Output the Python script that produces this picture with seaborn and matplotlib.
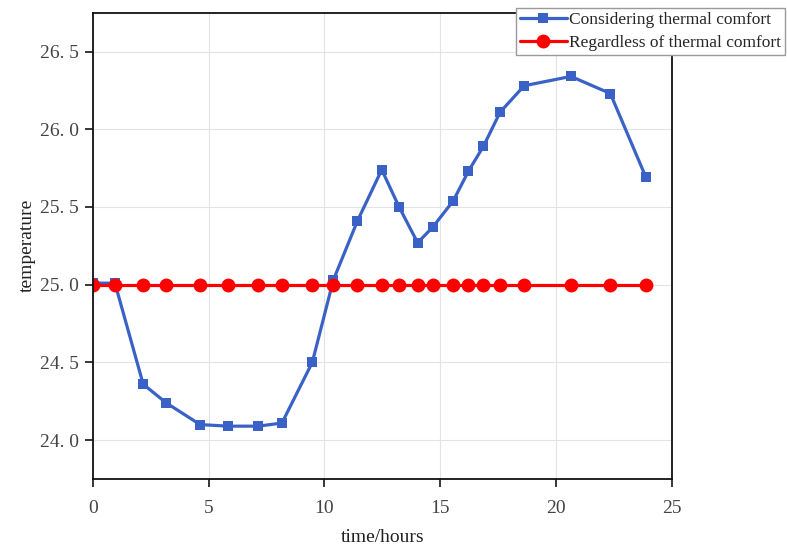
import matplotlib
matplotlib.use("Agg")
import matplotlib.pyplot as plt
import seaborn as sns
import pandas as pd

## Data
hours = [0.0, 0.96, 2.18, 3.17, 4.64, 5.86, 7.15, 8.17, 9.48, 10.39, 11.43, 12.48,
         13.23, 14.03, 14.68, 15.57, 16.22, 16.87, 17.59, 18.63, 20.65, 22.35, 23.89]
with_comfort = [25.01, 25.01, 24.36, 24.24, 24.10, 24.09, 24.09, 24.11, 24.50, 25.03, 25.41, 25.74,
                25.50, 25.27, 25.37, 25.54, 25.73, 25.89, 26.11, 26.28, 26.34, 26.23, 25.69]
without_comfort = [25.0] * len(hours)

label_with = "Considering thermal comfort"
label_without = "Regardless of thermal comfort"

blue = "#3A62C6"
red = "#FF0000"
grid_grey = "#E3E3E3"
text_dark = "#222222"

df = pd.DataFrame({"hours": hours, "with": with_comfort, "without": without_comfort})

## Setup
sns.set_style("white")
plt.rcParams["font.family"] = ["Liberation Serif", "DejaVu Serif"]
fig = plt.figure(figsize=(7.87, 5.47), dpi=100)
ax = fig.add_axes([0.1178, 0.1243, 0.7357, 0.8525])

## Plot
sns.lineplot(data=df, x="hours", y="with", ax=ax, color=blue, lw=2.3,
             marker="s", markersize=7.5, markeredgewidth=0, label=label_with)
sns.lineplot(data=df, x="hours", y="without", ax=ax, color=red, lw=2.3,
             marker="o", markersize=10, markeredgewidth=0, label=label_without)

## Format
ax.set_xlim(0, 25)
ax.set_ylim(23.75, 26.75)
ax.set_xticks([0, 5, 10, 15, 20, 25])
ax.set_yticks([24.0, 24.5, 25.0, 25.5, 26.0, 26.5])
ax.set_yticklabels([f"{v:.1f}".replace(".", ". ") for v in ax.get_yticks()])
ax.grid(True, color=grid_grey, lw=0.8)
ax.set_axisbelow(True)
for side in ["left", "bottom", "top", "right"]:
    ax.spines[side].set_color("#111111")
    ax.spines[side].set_linewidth(1.3)
ax.tick_params(axis="both", direction="out", length=6, width=1.3, labelsize=14,
               labelcolor="#444444", bottom=True, left=True)
ax.tick_params(axis="x", pad=9)
ax.tick_params(axis="y", pad=4)

ax.set_xlabel("time/hours", fontsize=14, color=text_dark, labelpad=9)
ax.set_ylabel("temperature", fontsize=14, color=text_dark, labelpad=3)

ax.legend(loc="upper right", bbox_to_anchor=(785 / 787, 1 - 8 / 547),
          bbox_transform=fig.transFigure, fontsize=12.5, frameon=True, fancybox=False,
          edgecolor="#999999", framealpha=1, borderpad=0.25, labelspacing=0.35,
          handlelength=2.7, handletextpad=0.1, borderaxespad=0)

## Save
fig.savefig("out.png", dpi=100)
